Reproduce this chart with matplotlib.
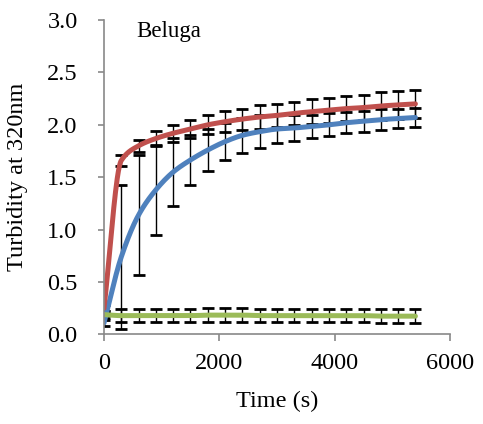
import numpy as np
import matplotlib
matplotlib.use("Agg")
import matplotlib.pyplot as plt

plt.rcParams["font.family"] = ["Liberation Serif", "DejaVu Serif"]

time_s = [0, 300, 600, 900, 1200, 1500, 1800, 2100, 2400, 2700, 3000,
          3300, 3600, 3900, 4200, 4500, 4800, 5100, 5400]

blue = [0.11, 0.74, 1.14, 1.38, 1.55, 1.665, 1.76, 1.84, 1.90, 1.935, 1.96,
        1.97, 1.985, 2.00, 2.02, 2.035, 2.05, 2.06, 2.07]
blue_err = [0.03, 0.69, 0.57, 0.43, 0.32, 0.24, 0.20, 0.18, 0.17, 0.155, 0.135,
            0.12, 0.11, 0.11, 0.10, 0.10, 0.10, 0.09, 0.09]

red = [0.25, 1.66, 1.80, 1.87, 1.92, 1.96, 2.00, 2.03, 2.055, 2.075, 2.09,
       2.11, 2.125, 2.14, 2.155, 2.165, 2.18, 2.19, 2.20]
red_err = [0.03, 0.05, 0.06, 0.07, 0.08, 0.09, 0.09, 0.10, 0.10, 0.11, 0.11,
           0.11, 0.12, 0.12, 0.12, 0.12, 0.13, 0.13, 0.13]

green = [0.19, 0.18, 0.18, 0.18, 0.18, 0.18, 0.185, 0.185, 0.185, 0.18, 0.18,
         0.18, 0.18, 0.18, 0.18, 0.18, 0.175, 0.175, 0.175]
green_err = [0.03, 0.065, 0.065, 0.065, 0.065, 0.065, 0.065, 0.065, 0.065, 0.065, 0.065,
             0.065, 0.065, 0.065, 0.065, 0.065, 0.065, 0.065, 0.065]


def smooth(x, y, n=30):
    # monotone cubic (fritsch-carlson) so the knee doesn't overshoot
    x = np.asarray(x, float)
    y = np.asarray(y, float)
    h = np.diff(x)
    d = np.diff(y) / h
    m = np.zeros_like(y)
    m[0], m[-1] = d[0], d[-1]
    for i in range(1, len(y) - 1):
        if d[i - 1] * d[i] > 0:
            w1 = 2 * h[i] + h[i - 1]
            w2 = h[i] + 2 * h[i - 1]
            m[i] = (w1 + w2) / (w1 / d[i - 1] + w2 / d[i])
    xs, ys = [], []
    t = np.linspace(0, 1, n, endpoint=False)
    for i in range(len(h)):
        h00 = 2 * t ** 3 - 3 * t ** 2 + 1
        h10 = t ** 3 - 2 * t ** 2 + t
        h01 = -2 * t ** 3 + 3 * t ** 2
        h11 = t ** 3 - t ** 2
        xs.append(x[i] + t * h[i])
        ys.append(h00 * y[i] + h10 * h[i] * m[i] + h01 * y[i + 1] + h11 * h[i] * m[i + 1])
    xs.append([x[-1]])
    ys.append([y[-1]])
    return np.concatenate(xs), np.concatenate(ys)


fig = plt.figure(figsize=(4.83, 4.24), dpi=100)
ax = fig.add_axes([0.2153, 0.2111, 0.7164, 0.7417])

for vals, errs in ((blue, blue_err), (red, red_err), (green, green_err)):
    ax.errorbar(time_s, vals, yerr=errs, fmt="none", ecolor="black",
                elinewidth=1.0, capsize=4, capthick=2.0, zorder=1)

for vals, col in ((blue, "#4F81BD"), (red, "#C0504D"), (green, "#9BBB59")):
    sx, sy = smooth(time_s, vals)
    ax.plot(sx, sy, color=col, lw=3.6, solid_capstyle="round", zorder=2)

ax.set_xlim(0, 6000)
ax.set_ylim(0, 3.0)
ax.set_xticks([0, 2000, 4000, 6000])
ax.set_yticks(np.arange(0, 3.01, 0.5))
ax.set_yticklabels([f"{v:.1f}" for v in np.arange(0, 3.01, 0.5)])

for s in ("top", "right"):
    ax.spines[s].set_visible(False)
for s in ("left", "bottom"):
    ax.spines[s].set_color("#898989")
    ax.spines[s].set_linewidth(1.2)
ax.tick_params(axis="both", colors="#898989", labelcolor="black", width=1.2,
               labelsize=17.5)
ax.tick_params(axis="x", length=5, pad=8)
ax.tick_params(axis="y", length=4, pad=15)

ax.set_xlabel("Time (s)", fontsize=17.5)
ax.set_ylabel("Turbidity at 320nm", fontsize=17.5)
ax.xaxis.set_label_coords(0.5, -0.18)
ax.yaxis.set_label_coords(-0.22, 0.5)

ax.text(0.0925, 0.946, "Beluga", transform=ax.transAxes, fontsize=16.5,
        va="baseline", ha="left")

fig.savefig("out.png", dpi=100)
